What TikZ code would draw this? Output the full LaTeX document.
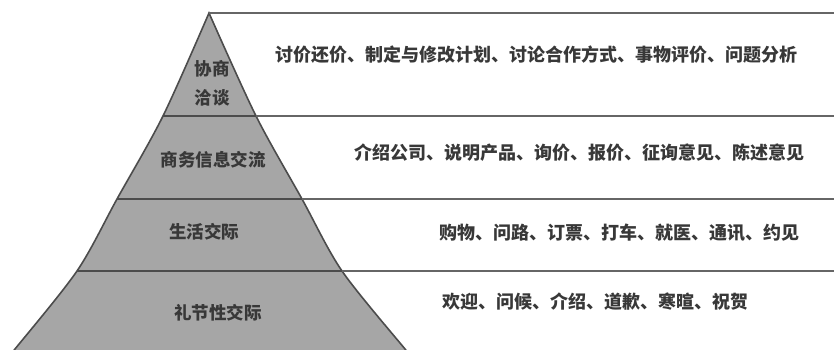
\documentclass[tikz,border=0pt]{standalone}
\usepackage{fontspec}
\newfontfamily\cjk{Noto Sans CJK SC}
\begin{document}
\begin{tikzpicture}[x=1pt,y=-1pt,
  lvl/.style={font=\cjk\bfseries\fontsize{17.5}{17.5}\selectfont, text=black!78, inner sep=0pt},
  desc/.style={font=\cjk\bfseries\fontsize{18}{18}\selectfont, text=black!78, inner sep=0pt, anchor=west},
  divider/.style={draw=black!70, line width=1.8pt},
  rule/.style={draw=black!60, line width=1.1pt}]
\useasboundingbox (0,0) rectangle (834,349);
\clip (0,0) rectangle (834,349);
% pyramid body
\fill[black!35]
  plot[smooth] coordinates {(12,352) (15,349) (77,271) (117,199) (163,116) (209,13)}
  -- plot[smooth] coordinates {(209,13) (256,116) (302,199) (342,271) (405,349) (408,352)}
  -- cycle;
\draw[black!70, line width=1.6pt]
  plot[smooth] coordinates {(12,352) (15,349) (77,271) (117,199) (163,116) (209,13)}
  -- plot[smooth] coordinates {(209,13) (256,116) (302,199) (342,271) (405,349) (408,352)};
% corner coordinates
\coordinate (apex) at (209,13);
\coordinate (top r) at (834,13);
\coordinate (l1) at (163,116); \coordinate (m1) at (256,116); \coordinate (r1) at (834,116);
\coordinate (l2) at (117,199); \coordinate (m2) at (302,199); \coordinate (r2) at (834,199);
\coordinate (l3) at (77,271);  \coordinate (m3) at (342,271); \coordinate (r3) at (834,271);
% dividers
\draw[divider] (l1) -- (m1);
\draw[divider] (l2) -- (m2);
\draw[divider] (l3) -- (m3);
\draw[rule] (apex) -- (top r);
\draw[rule] (m1) -- (r1);
\draw[rule] (m2) -- (r2);
\draw[rule] (m3) -- (r3);
% level labels
\node[lvl] (p1a) at (212,69) {协商};
\node[lvl] (p1b) at (212,98) {洽谈};
\node[lvl] (p2) at (213,160) {商务信息交流};
\node[lvl] (p3) at (204,232) {生活交际};
\node[lvl] (p4) at (218,313) {礼节性交际};
% descriptions
\node[desc] (d1) at (275,55) {讨价还价、制定与修改计划、讨论合作方式、事物评价、问题分析};
\node[desc] (d2) at (354,153) {介绍公司、说明产品、询价、报价、征询意见、陈述意见};
\node[desc] (d3) at (439,233) {购物、问路、订票、打车、就医、通讯、约见};
\node[desc] (d4) at (442,302) {欢迎、问候、介绍、道歉、寒暄、祝贺};
\end{tikzpicture}
\end{document}
